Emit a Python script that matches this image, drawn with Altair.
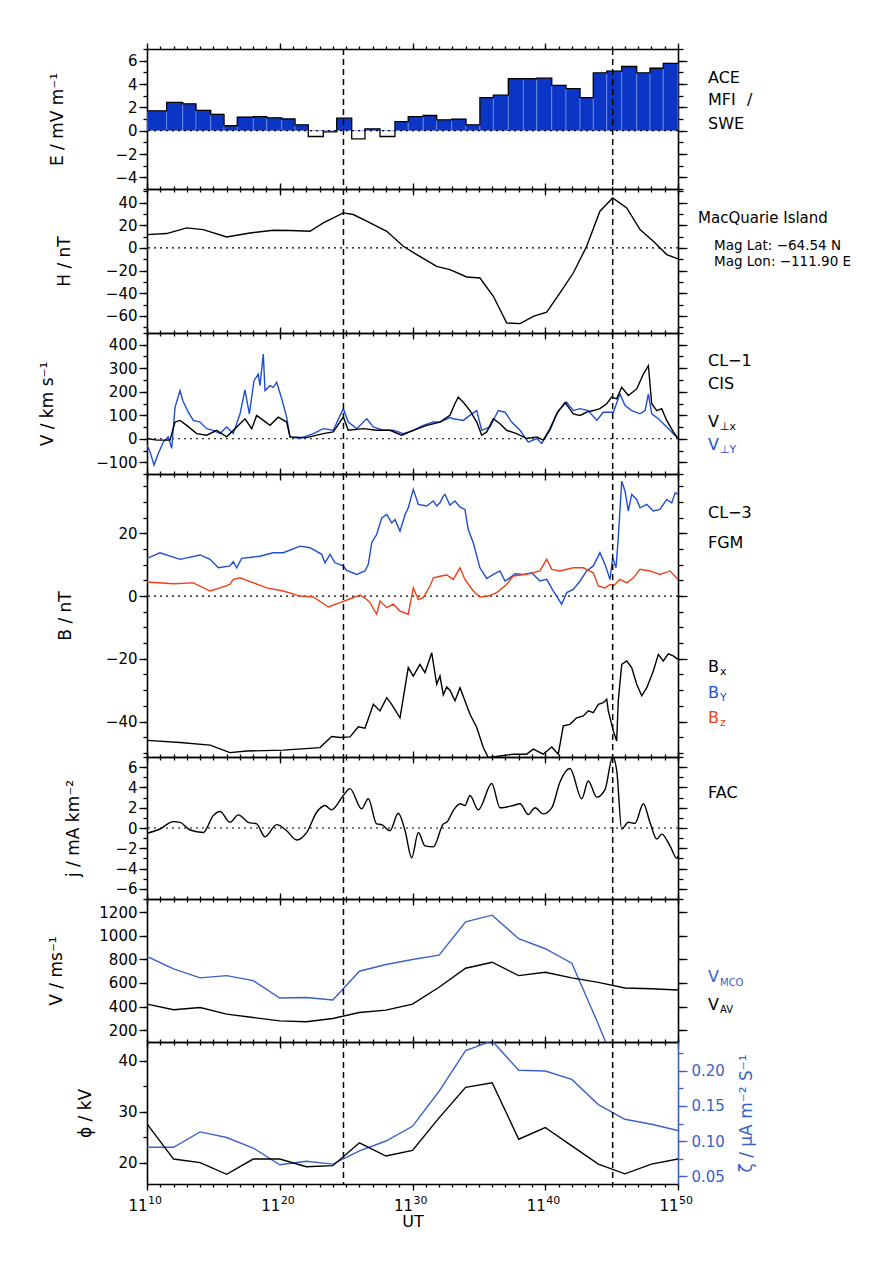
import altair as alt
import pandas as pd

FONT = "DejaVu Sans"
BLUE = "#1f4fd0"
BLUE2 = "#3a62c8"
RED = "#f0401a"
FILL = "#0b35c4"

# ---------------- time axis (minutes after 11:00 UT) ----------------
X_DOMAIN = [10, 50]
X_MAJOR = [10, 20, 30, 40, 50]
X_MINOR = list(range(10, 51))
X_HOUR = "11"
X_SUP = ["10", "20", "30", "40", "50"]
EVENT_TIMES = [24.8, 45.08]

# ---------------- panel 1 : ACE electric field ----------------
E_DOM = [-5, 7]
E_MAJ = [-4, -2, 0, 2, 4, 6]
E_MIN = [-5, -4, -3, -2, -1, 0, 1, 2, 3, 4, 5, 6, 7]
E_EDGES = [10.0, 11.48, 12.69, 13.69, 14.8, 15.8, 16.8, 18.01, 19.02, 20.15, 21.15, 22.15,
           23.28, 24.29, 25.42, 26.42, 27.55, 28.68, 29.68, 30.81, 31.82, 32.95, 34.03,
           35.08, 36.09, 37.22, 38.35, 39.36, 40.49, 41.56, 42.62, 43.62, 44.63, 45.76,
           46.89, 47.89, 48.89, 50.0]
E_VALUES = [1.7, 2.42, 2.3, 1.74, 1.4, 0.42, 1.15, 1.2, 1.1, 1.0, 0.5, -0.5, -0.1, 1.07,
            -0.7, 0.15, -0.5, 0.78, 1.2, 1.3, 0.93, 0.98, 0.5, 2.84, 3.04, 4.45, 4.45, 4.5,
            3.89, 3.6, 2.84, 4.95, 5.1, 5.5, 4.95, 5.35, 5.77]

# ---------------- panel 2 : MacQuarie Island H ----------------
H_DOM = [-75, 52]
H_MAJ = [-60, -40, -20, 0, 20, 40]
H_MIN = [-70, -60, -50, -40, -30, -20, -10, 0, 10, 20, 30, 40, 50]
H_T = [10.0, 11.48, 12.99, 14.24, 16.0, 17.76, 19.51, 20.77, 22.28, 23.28, 24.79, 25.54,
       26.55, 28.06, 29.31, 30.32, 31.82, 32.82, 34.08, 35.08, 36.09, 37.1, 38.1, 39.1,
       40.11, 41.11, 42.11, 43.12, 44.12, 45.08, 46.14, 47.14, 48.14, 49.15, 50.0]
H_V = [11.8, 12.7, 17.7, 16.2, 9.7, 13.2, 15.6, 15.4, 14.7, 22.1, 30.9, 29.5, 23.6, 14.7,
       1.5, -5.8, -16.2, -19.1, -25.6, -26.5, -42.6, -66.2, -66.7, -60.3, -56.7, -39.7,
       -22.1, 1.5, 32.4, 44.1, 35.3, 16.2, 5.9, -5.8, -9.7]

# ---------------- panel 3 : CL-1 CIS velocities ----------------
V_DOM = [-150, 450]
V_MAJ = [-100, 0, 100, 200, 300, 400]
V_MIN = [-150, -100, -50, 0, 50, 100, 150, 200, 250, 300, 350, 400, 450]
VY_T = [10.0, 10.23, 10.53, 10.85, 11.23, 11.6, 11.86, 12.11, 12.49, 12.69, 13.11, 13.49,
        13.99, 14.5, 14.99, 15.5, 16.0, 16.5, 17.01, 17.38, 17.71, 18.06, 18.38, 18.51,
        18.76, 18.89, 19.27, 19.51, 19.77, 20.15, 20.52, 20.77, 21.53, 22.53, 23.28, 24.03,
        24.79, 25.16, 25.8, 26.55, 27.05, 27.8, 28.55, 29.31, 30.06, 30.81, 31.57, 32.07,
        32.82, 33.07, 33.83, 34.46, 34.84, 35.21, 35.84, 36.46, 36.97, 37.47, 38.1, 38.72,
        39.36, 39.73, 40.36, 40.98, 41.62, 42.11, 42.62, 43.24, 43.88, 44.37, 45.13, 45.63,
        46.01, 46.51, 47.14, 47.52, 47.77, 48.02, 48.52, 49.15, 50.0]
VY_V = [-27, -56, -112, -63, -14, 8, -41, 134, 205, 163, 113, 78, 71, 43, 36, 22, 50, 22,
        106, 208, 106, 247, 275, 226, 360, 205, 226, 219, 240, 170, 92, 8, 1, 22, 43, 36,
        128, 71, 43, 85, 50, 36, 36, 22, 36, 57, 71, 71, 90, 85, 78, 106, 120, 36, 50, 120,
        113, 71, 36, -14, 1, -20, 36, 120, 155, 120, 128, 120, 78, 113, 113, 191, 141, 120,
        106, 120, 191, 106, 85, 50, 1]
VX_T = [10.0, 10.73, 11.73, 12.11, 12.49, 12.99, 13.74, 14.5, 15.25, 16.0, 16.76, 17.38,
        17.89, 18.26, 18.76, 19.27, 19.89, 20.52, 20.77, 22.03, 23.28, 24.03, 24.79, 25.16,
        26.29, 27.3, 28.3, 29.19, 30.06, 31.07, 32.07, 32.82, 33.2, 33.45, 33.83, 34.33,
        34.84, 35.21, 35.59, 36.09, 36.59, 37.09, 37.85, 38.6, 39.36, 39.85, 40.36, 40.86,
        41.49, 42.11, 42.62, 43.12, 43.62, 44.12, 44.63, 45.0, 45.38, 45.76, 46.26, 46.89,
        47.39, 47.77, 48.02, 48.4, 48.77, 49.15, 49.65, 50.0]
VX_V = [1, -6, -6, 71, 78, 57, 22, 15, 36, 8, 50, 85, 43, 99, 78, 57, 92, 71, 8, 5, 22, 29,
        92, 36, 43, 36, 36, 15, 36, 57, 71, 100, 150, 177, 155, 120, 71, 15, 29, 85, 64, 36,
        22, 1, 8, -6, 43, 106, 155, 106, 99, 113, 120, 128, 149, 177, 170, 219, 184, 212,
        275, 311, 149, 120, 128, 78, 29, 1]

# ---------------- panel 4 : CL-3 FGM magnetic field ----------------
B_DOM = [-51.3, 38.9]
B_MAJ = [-40, -20, 0, 20]
B_MIN = [-50, -45, -40, -35, -30, -25, -20, -15, -10, -5, 0, 5, 10, 15, 20, 25, 30, 35]
BY_T = [10.0, 10.98, 12.49, 13.99, 14.75, 15.37, 16.25, 16.5, 16.76, 17.13, 18.51, 19.51,
        20.27, 21.53, 22.28, 23.16, 23.41, 23.79, 24.16, 24.79, 25.04, 25.8, 26.42, 26.67,
        26.93, 27.3, 27.68, 28.06, 28.43, 28.68, 29.06, 29.44, 29.68, 30.06, 30.44, 31.07,
        31.57, 31.82, 32.07, 32.32, 32.45, 32.82, 33.2, 33.58, 33.95, 34.2, 34.58, 35.08,
        35.59, 36.09, 36.59, 36.97, 37.34, 37.72, 38.35, 38.98, 39.6, 40.11, 40.61, 41.24,
        41.62, 42.11, 42.62, 43.12, 43.62, 44.12, 44.5, 44.88, 45.08, 45.33, 45.5, 45.76,
        46.01, 46.26, 46.51, 46.89, 47.14, 47.65, 48.14, 48.64, 49.15, 49.53, 49.79, 50.0]
BY_V = [12.0, 13.8, 11.7, 13.1, 11.7, 9.0, 9.6, 10.9, 9.0, 12.0, 12.7, 13.8, 13.8, 15.9,
        15.4, 13.3, 10.6, 13.3, 10.6, 9.6, 8.2, 6.9, 8.0, 10.1, 17.0, 19.6, 24.9, 26.0, 23.3,
        24.4, 20.7, 26.0, 28.1, 34.0, 29.2, 28.7, 30.3, 28.7, 29.7, 31.8, 32.4, 29.0, 30.3,
        28.3, 27.6, 21.2, 17.0, 9.0, 5.6, 6.9, 8.0, 4.8, 5.8, 7.1, 6.9, 7.4, 4.8, 5.3, 1.6,
        -2.6, 1.1, 2.1, 4.8, 8.0, 9.6, 13.8, 10.1, 5.3, 12.2, 9.0, 18.6, 36.6, 33.4, 27.1,
        32.4, 30.8, 28.1, 29.2, 27.1, 27.6, 30.8, 29.7, 32.9, 32.4]
BZ_T = [10.0, 11.98, 13.49, 14.75, 15.5, 16.25, 16.5, 17.01, 18.01, 19.02, 20.27, 21.53,
        22.53, 23.66, 24.54, 25.16, 26.05, 26.55, 26.8, 27.3, 27.55, 28.06, 28.55, 29.06,
        29.68, 30.06, 30.44, 30.81, 31.32, 31.57, 32.07, 32.58, 33.07, 33.58, 33.95, 34.58,
        35.08, 35.71, 36.34, 37.09, 37.59, 38.6, 39.6, 40.11, 40.49, 41.11, 42.11, 42.87,
        43.62, 44.0, 44.5, 44.88, 45.13, 45.63, 46.14, 46.64, 47.14, 47.89, 48.64, 49.4, 50.0]
BZ_V = [4.5, 3.9, 4.2, 1.6, 2.6, 3.7, 5.3, 5.8, 4.2, 2.6, 1.6, 0.0, -0.3, -3.5, -2.1, -1.1,
        0.3, -1.1, -2.1, -5.8, -1.6, -3.7, -2.6, -4.8, -5.8, 2.6, -1.1, -0.5, 3.2, 5.8, 6.3,
        6.7, 5.3, 9.0, 5.3, 1.6, -0.3, 0.0, 1.1, 3.7, 6.4, 6.9, 8.0, 11.7, 8.5, 8.0, 9.0,
        9.0, 7.4, 3.2, 2.6, 3.7, 3.2, 5.3, 4.2, 5.8, 8.5, 8.0, 6.9, 8.0, 5.3]
BX_T = [10.0, 12.49, 14.75, 16.25, 17.51, 20.27, 23.03, 23.91, 24.54, 25.29, 25.92, 26.42,
        27.05, 27.55, 28.06, 28.43, 29.06, 29.68, 30.06, 30.56, 30.94, 31.45, 31.82, 32.07,
        32.32, 32.58, 32.82, 33.2, 33.58, 33.95, 34.33, 34.84, 35.33, 35.71, 36.59, 37.59,
        38.6, 39.1, 39.85, 40.49, 40.98, 41.36, 41.86, 42.37, 42.87, 43.24, 43.62, 44.0,
        44.37, 44.63, 44.75, 45.13, 45.38, 45.5, 45.76, 46.14, 46.51, 46.89, 47.27, 47.65,
        48.14, 48.52, 48.89, 49.27, 49.65, 50.0]
BX_V = [-46.0, -46.7, -47.5, -49.9, -49.4, -49.1, -48.3, -44.8, -45.1, -44.9, -41.7, -42.1,
        -34.5, -36.6, -32.4, -34.5, -38.8, -22.8, -25.5, -21.8, -24.4, -18.1, -28.1, -25.5,
        -31.5, -29.0, -30.0, -33.4, -29.2, -33.4, -37.7, -41.9, -48.3, -51.5, -51.0, -50.4,
        -50.4, -48.8, -50.4, -48.1, -50.4, -41.4, -40.9, -38.8, -38.2, -36.6, -37.2, -34.5,
        -34.0, -32.9, -36.6, -43.0, -46.2, -33.4, -21.8, -20.7, -22.8, -28.1, -31.8, -29.2,
        -23.9, -18.6, -20.7, -18.4, -19.1, -20.2]

# ---------------- panel 5 : field-aligned current ----------------
J_DOM = [-7, 7]
J_MAJ = [-6, -4, -2, 0, 2, 4, 6]
J_MIN = [-7, -6, -5, -4, -3, -2, -1, 0, 1, 2, 3, 4, 5, 6, 7]
J_T = [10.0, 10.98, 11.98, 12.49, 13.24, 14.24, 14.99, 15.5, 16.25, 16.88, 17.63, 18.26,
       18.89, 19.77, 20.52, 21.28, 22.03, 22.78, 23.41, 23.91, 24.79, 25.29, 26.17, 26.67,
       27.3, 27.68, 28.3, 28.93, 29.44, 29.94, 30.44, 30.94, 31.57, 32.32, 32.58, 33.07,
       33.58, 33.95, 34.33, 34.96, 35.97, 36.59, 37.59, 38.1, 38.72, 39.23, 39.85, 40.49,
       41.11, 41.86, 42.75, 43.24, 43.88, 44.5, 45.08, 45.38, 45.76, 46.26, 46.76, 47.39,
       47.89, 48.4, 48.77, 49.4, 49.91, 50.0]
J_V = [-0.53, -0.1, 0.63, 0.56, -0.2, -0.44, 1.22, 1.62, 0.56, 1.29, 0.56, 0.4, -0.87, 0.33,
       -0.27, -1.19, -0.44, 1.55, 2.22, 1.79, 3.21, 3.88, 1.89, 2.89, 0.4, 0.33, -0.27, 1.45,
       -0.27, -2.93, -0.44, -1.76, -1.86, 0.4, 0.56, 1.72, 2.39, 2.22, 3.21, 1.79, 4.38,
       1.99, 2.22, 2.39, 1.32, 1.99, 1.39, 1.99, 4.54, 5.87, 2.89, 4.64, 3.04, 3.78, 7.0,
       5.7, -0.1, 0.56, 0.46, 2.39, 0.56, -1.09, -0.6, -1.76, -2.99, -2.76]

# ---------------- panel 6 : convection velocities ----------------
W_DOM = [100, 1310]
W_MAJ = [200, 400, 600, 800, 1000, 1200]
W_MIN = [200, 400, 600, 800, 1000, 1200]
VM_T = [10, 12, 14, 16, 18, 20, 22, 24, 26, 28, 30, 32, 34, 36, 38, 40, 42, 44, 46]
VM_V = [824, 719, 643, 662, 620, 472, 477, 455, 699, 756, 798, 835, 1116, 1173, 974, 889,
        767, 250, -300]
VA_T = [10, 12, 14, 16, 18, 20, 22, 24, 26, 28, 30, 32, 34, 36, 38, 40, 42, 44, 46, 48, 50]
VA_V = [421, 373, 392, 336, 307, 279, 271, 299, 350, 370, 421, 563, 724, 775, 662, 690, 643,
        605, 557, 550, 540]

# ---------------- panel 7 : potential and conductance ----------------
P_DOM = [15.8, 43.7]
P_MAJ = [20, 30, 40]
P_MIN = [20, 25, 30, 35, 40]
Z_DOM = [0.0386, 0.2414]
Z_MAJ = [0.05, 0.10, 0.15, 0.20]
Z_MIN = [0.05, 0.075, 0.10, 0.125, 0.15, 0.175, 0.20, 0.225]
PZ_T = [10, 12, 14, 16, 18, 20, 22, 24, 26, 28, 30, 32, 34, 36, 38, 40, 42, 44, 46, 48, 50]
PHI = [27.6, 20.7, 20.0, 17.7, 20.7, 20.7, 19.2, 19.4, 23.9, 21.3, 22.4, 28.8, 34.8, 35.7,
       24.6, 26.9, 23.3, 19.7, 17.8, 19.7, 20.7]
ZETA = [0.091, 0.091, 0.113, 0.105, 0.090, 0.066, 0.071, 0.067, 0.086, 0.100, 0.121, 0.171,
        0.229, 0.243, 0.201, 0.200, 0.188, 0.152, 0.131, 0.124, 0.115]

# ---------------- texts ----------------
TITLES = ["E / mV m⁻¹", "H / nT", "V / km s⁻¹", "B / nT", "j / mA km⁻²", "V / ms⁻¹", "ϕ / kV"]
ZETA_TITLE = "ζ / μA m⁻² S⁻¹"
ACE_TXT = ["ACE", "MFI", "/", "SWE"]
MAC_TXT = ["MacQuarie Island", "Mag Lat: −64.54 N", "Mag Lon: −111.90 E"]
CL1_TXT = ["CL−1", "CIS", "V", "⊥x", "V", "⊥Y"]
CL3_TXT = ["CL−3", "FGM", "B", "x", "B", "Y", "B", "z"]
FAC_TXT = ["FAC"]
VEL_TXT = ["V", "MCO", "V", "AV"]

W = 531
HEIGHTS = [140, 144, 141, 283, 142, 143, 142]
TITLE_X = [-90, -83, -100, -82, -74, -91, -62]

xs = alt.Scale(domain=X_DOMAIN, nice=False, zero=False)


def ysc(dom):
    return alt.Scale(domain=dom, nice=False, zero=False)


def frame(ydom, ymaj, ymin, title, title_x, h, xlabels=False, right=True):
    df = pd.DataFrame({"t": X_DOMAIN, "v": ydom})
    base = alt.Chart(df).mark_line(opacity=0)
    ys = ysc(ydom)
    if xlabels:
        xkw = dict(labels=True, labelExpr=f"'{X_HOUR}'", labelAlign="right", title="UT",
                   labelPadding=8, titlePadding=0, labelFontSize=15, titleFontSize=16)
    else:
        xkw = dict(labels=False, title=None)
    l1 = base.encode(
        x=alt.X("t:Q", scale=xs, axis=alt.Axis(orient="bottom", values=X_MAJOR, tickSize=6, **xkw)),
        y=alt.Y("v:Q", scale=ys, axis=alt.Axis(orient="left", values=ymaj, tickSize=8,
                                                format="d", labelPadding=2, title=title,
                                                titleX=title_x, titleY=h / 2, titleAngle=270,
                                                titleAlign="center", titleBaseline="middle")))
    l2 = base.encode(
        x=alt.X("t:Q", scale=xs, axis=alt.Axis(orient="bottom", values=X_MINOR, tickSize=3,
                                                labels=False, domain=False, title=None)),
        y=alt.Y("v:Q", scale=ys, axis=alt.Axis(orient="left", values=ymin, tickSize=4,
                                                labels=False, domain=False, title=None)))
    l3 = base.encode(
        x=alt.X("t:Q", scale=xs, axis=alt.Axis(orient="top", values=X_MAJOR, tickSize=6,
                                                labels=False, title=None)),
        y=alt.Y("v:Q", scale=ys, axis=(alt.Axis(orient="right", values=ymaj, tickSize=9,
                                                 labels=False, title=None) if right else None)))
    l4 = base.encode(
        x=alt.X("t:Q", scale=xs, axis=alt.Axis(orient="top", values=X_MINOR, tickSize=3,
                                                labels=False, domain=False, title=None)),
        y=alt.Y("v:Q", scale=ys, axis=(alt.Axis(orient="right", values=ymin, tickSize=5,
                                                 labels=False, domain=False, title=None) if right else None)))
    return [l1, l2, l3, l4]


def line(t, v, dom, color="black", width=1.4, interp="linear"):
    df = pd.DataFrame({"t": t, "v": v})
    return alt.Chart(df).mark_line(color=color, strokeWidth=width, clip=True,
                                   interpolate=interp).encode(
        x=alt.X("t:Q", scale=xs, axis=None),
        y=alt.Y("v:Q", scale=ysc(dom), axis=None))


def zero_rule(dom):
    return alt.Chart(pd.DataFrame({"z": [0]})).mark_rule(
        color="black", strokeWidth=1.2, strokeDash=[2, 4]).encode(
        y=alt.Y("z:Q", scale=ysc(dom), axis=None))


def events():
    return alt.Chart(pd.DataFrame({"t": EVENT_TIMES})).mark_rule(
        color="black", strokeWidth=1.5, strokeDash=[6, 4]).encode(
        x=alt.X("t:Q", scale=xs, axis=None))


def txt(text, x, y, color="black", size=16):
    return alt.Chart(pd.DataFrame({"a": [0]})).mark_text(
        text=text, align="left", baseline="middle", font=FONT, fontSize=size,
        color=color).encode(x=alt.value(x), y=alt.value(y))


def panel(layers, h, indep=False):
    c = alt.layer(*layers).resolve_axis(x="independent", y="independent")
    if indep:
        c = c.resolve_scale(y="independent")
    return c.properties(width=W, height=h)


# ---- panel 1
e_df = pd.DataFrame({"t0": E_EDGES[:-1], "t1": E_EDGES[1:], "v": E_VALUES,
                     "pos": [max(v, 0) for v in E_VALUES], "zero": [0] * len(E_VALUES)})
bars = alt.Chart(e_df).mark_rect(color=FILL, stroke="#7f9ae6", strokeWidth=0.6).encode(
    x=alt.X("t0:Q", scale=xs, axis=None), x2="t1",
    y=alt.Y("pos:Q", scale=ysc(E_DOM), axis=None), y2="zero")
step = line(E_EDGES, E_VALUES + [E_VALUES[-1]], E_DOM, width=1.3, interp="step-after")
p1 = panel([bars, zero_rule(E_DOM), step, events(),
            *frame(E_DOM, E_MAJ, E_MIN, TITLES[0], TITLE_X[0], HEIGHTS[0]),
            txt(ACE_TXT[0], 561, 29), txt(ACE_TXT[1], 561, 51), txt(ACE_TXT[2], 600, 51),
            txt(ACE_TXT[3], 561, 75)], HEIGHTS[0])

# ---- panel 2
p2 = panel([zero_rule(H_DOM), line(H_T, H_V, H_DOM), events(),
            *frame(H_DOM, H_MAJ, H_MIN, TITLES[1], TITLE_X[1], HEIGHTS[1]),
            txt(MAC_TXT[0], 551, 29, size=15), txt(MAC_TXT[1], 567, 57, size=13.5),
            txt(MAC_TXT[2], 567, 73, size=13.5)], HEIGHTS[1])

# ---- panel 3
p3 = panel([zero_rule(V_DOM), line(VY_T, VY_V, V_DOM, BLUE), line(VX_T, VX_V, V_DOM),
            events(), *frame(V_DOM, V_MAJ, V_MIN, TITLES[2], TITLE_X[2], HEIGHTS[2]),
            txt(CL1_TXT[0], 561, 28), txt(CL1_TXT[1], 561, 51),
            txt(CL1_TXT[2], 561, 89), txt(CL1_TXT[3], 573, 94, size=11),
            txt(CL1_TXT[4], 561, 112, BLUE), txt(CL1_TXT[5], 573, 117, BLUE, size=11)],
           HEIGHTS[2])

# ---- panel 4
p4 = panel([zero_rule(B_DOM), line(BY_T, BY_V, B_DOM, BLUE), line(BZ_T, BZ_V, B_DOM, RED),
            line(BX_T, BX_V, B_DOM), events(),
            *frame(B_DOM, B_MAJ, B_MIN, TITLES[3], TITLE_X[3], HEIGHTS[3]),
            txt(CL3_TXT[0], 561, 39), txt(CL3_TXT[1], 561, 69),
            txt(CL3_TXT[2], 561, 193), txt(CL3_TXT[3], 573, 198, size=11),
            txt(CL3_TXT[4], 561, 219, BLUE), txt(CL3_TXT[5], 573, 224, BLUE, size=11),
            txt(CL3_TXT[6], 561, 244, RED), txt(CL3_TXT[7], 573, 249, RED, size=11)],
           HEIGHTS[3])

# ---- panel 5
p5 = panel([zero_rule(J_DOM), line(J_T, J_V, J_DOM, interp="monotone"), events(),
            *frame(J_DOM, J_MAJ, J_MIN, TITLES[4], TITLE_X[4], HEIGHTS[4]),
            txt(FAC_TXT[0], 561, 36)], HEIGHTS[4])

# ---- panel 6
p6 = panel([line(VM_T, VM_V, W_DOM, BLUE2), line(VA_T, VA_V, W_DOM), events(),
            *frame(W_DOM, W_MAJ, W_MIN, TITLES[5], TITLE_X[5], HEIGHTS[5]),
            txt(VEL_TXT[0], 561, 78, BLUE2), txt(VEL_TXT[1], 573, 84, BLUE2, size=10),
            txt(VEL_TXT[2], 561, 106), txt(VEL_TXT[3], 573, 111, size=10)], HEIGHTS[5])

# ---- panel 7
zdf = pd.DataFrame({"t": X_DOMAIN, "v": Z_DOM})
zbase = alt.Chart(zdf).mark_line(opacity=0)
z_major = zbase.encode(
    x=alt.X("t:Q", scale=xs, axis=None),
    y=alt.Y("v:Q", scale=ysc(Z_DOM), axis=alt.Axis(
        orient="right", values=Z_MAJ, tickSize=9, format=".2f", labelColor=BLUE2,
        tickColor=BLUE2, domainColor=BLUE2, labelPadding=4, title=ZETA_TITLE,
        titleColor=BLUE2, titleAngle=270, titleX=68, titleY=HEIGHTS[6] / 2,
        titleAlign="center", titleBaseline="middle")))
z_minor = zbase.encode(
    x=alt.X("t:Q", scale=xs, axis=None),
    y=alt.Y("v:Q", scale=ysc(Z_DOM), axis=alt.Axis(
        orient="right", values=Z_MIN, tickSize=5, labels=False, domain=False,
        tickColor=BLUE2, title=None)))
sup = alt.Chart(pd.DataFrame({"t": X_MAJOR, "s": X_SUP})).mark_text(
    align="left", baseline="middle", font=FONT, fontSize=11, dx=1, color="black").encode(
    x=alt.X("t:Q", scale=xs, axis=None), y=alt.value(HEIGHTS[6] + 17), text="s:N")
p7 = panel([line(PZ_T, ZETA, Z_DOM, BLUE2), line(PZ_T, PHI, P_DOM), events(),
            *frame(P_DOM, P_MAJ, P_MIN, TITLES[6], TITLE_X[6], HEIGHTS[6], xlabels=True,
                   right=False),
            z_major, z_minor, sup], HEIGHTS[6], indep=True)

chart = alt.vconcat(p1, p2, p3, p4, p5, p6, p7, spacing=0, bounds="flush").properties(
    padding={"left": 30, "top": 34, "right": 10, "bottom": 10},
    background="white",
).configure_view(stroke=None).configure_axis(
    labelFont=FONT, titleFont=FONT, labelFontSize=15, titleFontSize=17,
    labelColor="black", titleColor="black", domainColor="black", tickColor="black",
    domainWidth=1.6, tickWidth=1.3, titleFontWeight="normal", grid=False,
    labelFlush=False, labelOverlap=False,
)

chart.save("out.html", embed_options={"renderer": "svg", "actions": False})
